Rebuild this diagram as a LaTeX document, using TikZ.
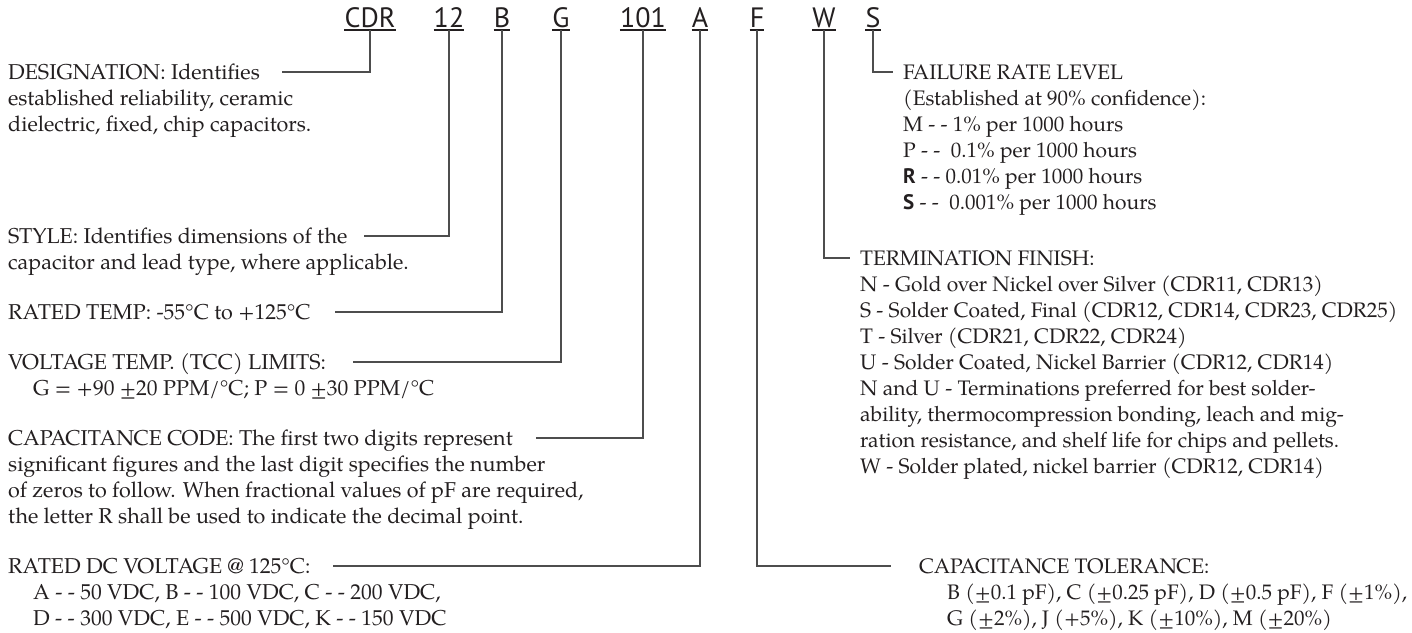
\documentclass[tikz,border=0pt]{standalone}
\usepackage{fontspec}
\setmainfont{TeX Gyre Pagella}
\setsansfont{PT Sans}
\definecolor{ink}{HTML}{231F20}
\definecolor{wirec}{HTML}{4D4D4D}
\newcommand\mystrut{\rule{0pt}{17pt}}
\newcommand\bsf[1]{{\sffamily\bfseries #1}}
\begin{document}
\begin{tikzpicture}[x=1pt,y=-1pt,
  txt/.style={anchor=north west, inner sep=0pt, align=left, text=ink, font=\fontsize{21}{26}\selectfont},
  ltxt/.style={txt, font=\fontsize{21.5}{26}\selectfont},
  code/.style={anchor=base, inner sep=0pt, text=ink, font=\sffamily\fontsize{28}{30}\selectfont},
  wire/.style={draw=wirec, line width=1.3pt},
  uline/.style={draw=ink, line width=1.2pt}]
\useasboundingbox (0,0) rectangle (1412,632);

% part-number codes
\node[code] (cdr) at (370,27) {CDR};
\node[code] (c12) at (449,27) {12};
\node[code] (cb)  at (502,27) {B};
\node[code] (cg)  at (561,27) {G};
\node[code] (c101) at (643,27) {101};
\node[code] (ca)  at (700,27) {A};
\node[code] (cf)  at (757,27) {F};
\node[code] (cw)  at (824,27) {W};
\node[code] (cs)  at (873,27) {S};
\foreach \n in {cdr,c12,cb,cg,c101,ca,cf,cw,cs}
  \draw[uline] ([yshift=-3pt]\n.base west) -- ([yshift=-3pt]\n.base east);

% left descriptions
\node[ltxt] (desig) at (8,62) {\mystrut DESIGNATION: Identifies\\established reliability, ceramic\\dielectric, fixed, chip capacitors.};
\node[ltxt] (style) at (8,226) {\mystrut STYLE: Identifies dimensions of the\\capacitor and lead type, where applicable.};
\node[ltxt] (rtemp) at (8,302) {\mystrut RATED TEMP: -55°C to +125°C};
\node[ltxt] (volt) at (8,352) {\mystrut VOLTAGE TEMP. (TCC) LIMITS:\\\hspace*{25pt}G = +90 ±20 PPM/°C; P = 0 ±30 PPM/°C};
\node[ltxt] (capc) at (8,428) {\mystrut CAPACITANCE CODE: The first two digits represent\\significant figures and the last digit specifies the number\\of zeros to follow. When fractional values of pF are required,\\the letter R shall be used to indicate the decimal point.};
\node[ltxt] (rdc) at (8,556) {\mystrut RATED DC VOLTAGE @ 125°C:\\\hspace*{25pt}A - - 50 VDC, B - - 100 VDC, C - - 200 VDC,\\\hspace*{25pt}D - - 300 VDC, E - - 500 VDC, K - - 150 VDC};

% right descriptions
\node[txt] (fail) at (903,62) {\mystrut FAILURE RATE LEVEL\\(Established at 90\% confidence):\\M - - 1\% per 1000 hours\\P - -\ \ 0.1\% per 1000 hours\\\bsf{R} - - 0.01\% per 1000 hours\\\bsf{S} - -\ \ 0.001\% per 1000 hours};
\node[txt] (term) at (860,248) {\mystrut TERMINATION FINISH:\\N - Gold over Nickel over Silver (CDR11, CDR13)\\S - Solder Coated, Final (CDR12, CDR14, CDR23, CDR25)\\T - Silver (CDR21, CDR22, CDR24)\\U - Solder Coated, Nickel Barrier (CDR12, CDR14)\\N and U - Terminations preferred for best solder-\\ability, thermocompression bonding, leach and mig-\\ration resistance, and shelf life for chips and pellets.\\W - Solder plated, nickel barrier (CDR12, CDR14)};
\node[txt] (ctol) at (919,556) {\mystrut CAPACITANCE TOLERANCE:\\\hspace*{28pt}B (±0.1 pF), C (±0.25 pF), D (±0.5 pF), F (±1\%),\\\hspace*{28pt}G (±2\%), J (+5\%), K (±10\%), M (±20\%)};

% connector free ends
\coordinate (eCDR) at (282,72);
\coordinate (e12) at (364,236);
\coordinate (eB) at (335,312);
\coordinate (eG) at (353,362);
\coordinate (e101) at (536,438);
\coordinate (eA) at (333,566);
\coordinate (eF) at (891,566);
\coordinate (eW) at (850,258);
\coordinate (eS) at (893,72);

\draw[wire] ([yshift=-3pt]cdr.base) |- (eCDR);
\draw[wire] ([yshift=-3pt]c12.base) |- (e12);
\draw[wire] ([yshift=-3pt]cb.base) |- (eB);
\draw[wire] ([yshift=-3pt]cg.base) |- (eG);
\draw[wire] ([yshift=-3pt]c101.base) |- (e101);
\draw[wire] ([yshift=-3pt]ca.base) |- (eA);
\draw[wire] ([yshift=-3pt]cf.base) |- (eF);
\draw[wire] ([yshift=-3pt]cw.base) |- (eW);
\draw[wire] ([yshift=-3pt]cs.base) |- (eS);
\end{tikzpicture}
\end{document}
